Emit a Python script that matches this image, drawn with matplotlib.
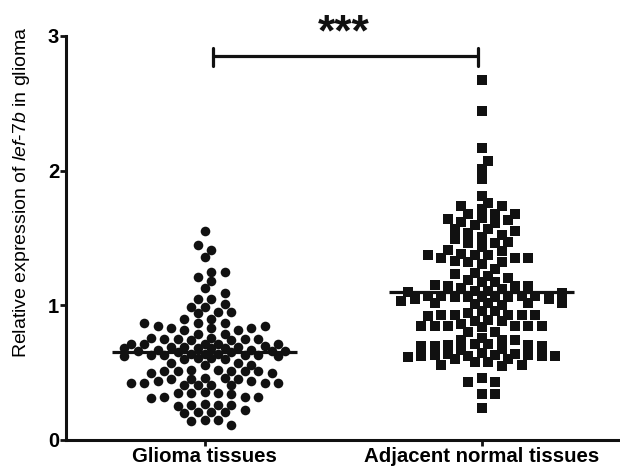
import numpy as np
import matplotlib
matplotlib.use("Agg")
import matplotlib.pyplot as plt

plt.rcParams['font.family'] = ['Liberation Sans', 'DejaVu Sans']
plt.rcParams['mathtext.fontset'] = 'custom'
plt.rcParams['mathtext.it'] = 'Liberation Sans:italic'
plt.rcParams['mathtext.rm'] = 'Liberation Sans'

categories = ["Glioma tissues", "Adjacent normal tissues"]

glioma = [1.55, 1.45, 1.41, 1.36, 1.25, 1.25, 1.21, 1.18, 1.13, 1.09, 1.05, 1.05, 1.01,
          0.99, 0.99, 0.95, 0.95, 0.94, 0.90, 0.90, 0.87, 0.87, 0.87, 0.85, 0.85,
          0.83, 0.83, 0.83, 0.82, 0.82, 0.79, 0.79,
          0.76, 0.76, 0.75, 0.75, 0.75, 0.75, 0.74, 0.74,
          0.71, 0.71, 0.71, 0.71, 0.71,
          0.70, 0.69, 0.69, 0.69, 0.68, 0.68, 0.68, 0.68,
          0.67, 0.67, 0.66, 0.66, 0.66, 0.65, 0.65,
          0.64, 0.64, 0.64, 0.63, 0.63, 0.63, 0.63,
          0.62, 0.62, 0.61, 0.61, 0.60, 0.60,
          0.57, 0.57, 0.56, 0.56,
          0.52, 0.52, 0.51, 0.51, 0.51, 0.51, 0.51, 0.50, 0.50,
          0.46, 0.46, 0.45, 0.45, 0.45, 0.44, 0.44,
          0.42, 0.42, 0.42, 0.42, 0.41, 0.41, 0.41, 0.41,
          0.36, 0.35, 0.35, 0.35, 0.34,
          0.32, 0.32, 0.32, 0.31,
          0.27, 0.26, 0.26, 0.26, 0.25,
          0.22, 0.21, 0.21, 0.21, 0.20,
          0.15, 0.15, 0.14, 0.11]

adjacent = [2.67, 2.44, 2.17, 2.07, 2.01, 1.94, 1.81,
            1.76, 1.74, 1.74, 1.715,
            1.68, 1.68, 1.68, 1.645, 1.64, 1.63, 1.62, 1.61, 1.60,
            1.565, 1.565, 1.55, 1.54, 1.52, 1.51, 1.49,
            1.47, 1.46, 1.46, 1.43, 1.41, 1.40,
            1.38, 1.37, 1.37, 1.37, 1.35, 1.35, 1.35, 1.33, 1.32, 1.32, 1.31,
            1.27, 1.24, 1.23, 1.22, 1.20, 1.19,
            1.17, 1.17, 1.15, 1.14, 1.14, 1.14, 1.13,
            1.12, 1.11, 1.11, 1.10,
            1.09, 1.07, 1.07, 1.07, 1.07, 1.06, 1.06, 1.06, 1.06, 1.06, 1.05, 1.05,
            1.03, 1.02, 1.02, 1.02, 1.02, 1.01, 1.00,
            0.955, 0.955,
            0.94, 0.93, 0.93, 0.93, 0.93, 0.93, 0.92,
            0.89, 0.885, 0.88,
            0.86, 0.85, 0.85, 0.85, 0.85, 0.85, 0.85, 0.84,
            0.805, 0.80, 0.76, 0.745, 0.743, 0.74,
            0.71, 0.71, 0.706, 0.706, 0.70, 0.70, 0.70,
            0.675, 0.67, 0.645, 0.64,
            0.635, 0.63, 0.63, 0.63, 0.625, 0.62, 0.62, 0.62, 0.615,
            0.60, 0.60, 0.58, 0.58, 0.56, 0.56, 0.55,
            0.46, 0.433, 0.433, 0.34, 0.34, 0.24]

group_means = [0.65, 1.10]
yticks = [0, 1, 2, 3]
sig_label = "***"

fig = plt.figure(figsize=(6.2, 4.72), dpi=100)
ax = fig.add_axes([0.1065, 0.0678, 0.8935, 0.856])
ax.set_xlim(-0.5, 1.5)
ax.set_ylim(0, 3)


def swarm_x(ys, center, d_px=8.9, step_px=6.7, max_k=12):
    """Column-scatter layout: place points from the middle value outward, each at
    the free lattice slot nearest the centre; if no slot is free, squeeze."""
    ys = np.asarray(ys, dtype=float)
    n = len(ys)
    pts = ax.transData.transform(np.column_stack([np.full(n, center), ys]))
    cx = pts[0, 0]
    ypx = pts[:, 1]
    med = np.median(ypx)
    order = np.argsort(np.abs(ypx - med), kind='stable')
    ks = [0]
    for k in range(1, max_k + 1):
        ks += [k, -k]
    placed_x = []
    placed_y = []
    xpx = np.zeros(n)
    for i in order:
        best_x, best_d = None, -1.0
        chosen = None
        for k in ks:
            x = cx + k * step_px
            if placed_x:
                dmin = np.min(np.hypot(np.array(placed_x) - x, np.array(placed_y) - ypx[i]))
            else:
                dmin = np.inf
            if dmin >= d_px:
                chosen = x
                break
            if dmin > best_d:
                best_d, best_x = dmin, x
        if chosen is None:
            chosen = best_x
        xpx[i] = chosen
        placed_x.append(chosen)
        placed_y.append(ypx[i])
    data = ax.transData.inverted().transform(np.column_stack([xpx, ypx]))
    return data[:, 0]


gx = swarm_x(glioma, 0)
axx = swarm_x(adjacent, 1)
ax.scatter(gx, glioma, s=48, marker='o', color='#111111', linewidths=0, zorder=3)
ax.scatter(axx, adjacent, s=44, marker='s', color='#111111', linewidths=0, zorder=3)

for i, m in enumerate(group_means):
    ax.plot([i - 0.335, i + 0.335], [m, m], color='#111111', lw=2.3, zorder=4,
            solid_capstyle='butt')

# significance bracket
ax.plot([0.032, 0.989], [2.85, 2.85], color='#111111', lw=2.3, clip_on=False,
        solid_capstyle='butt')
for xb in [0.032, 0.989]:
    ax.plot([xb, xb], [2.78, 2.91], color='#111111', lw=2.3, clip_on=False,
            solid_capstyle='round')
ax.text(0.504, 2.93, sig_label, ha='center', va='baseline', fontsize=32,
        fontweight='bold', color='#111111', clip_on=False)

for s in ['top', 'right']:
    ax.spines[s].set_visible(False)
for s in ['left', 'bottom']:
    ax.spines[s].set_linewidth(2.2)
    ax.spines[s].set_color('#111111')

ax.set_xticks([0, 1])
ax.set_xticklabels(categories, fontsize=14.7, fontweight='bold')
ax.set_yticks(yticks)
ax.set_yticklabels([str(t) for t in yticks], fontsize=14.5, fontweight='bold')
ax.tick_params(axis='both', length=4, width=2, color='#111111', pad=1)
ax.set_ylabel(r'Relative expression of $\mathit{lef}$-$\mathit{7b}$ in glioma',
              fontsize=14)
ax.yaxis.set_label_coords(-0.062, 0.614)

fig.savefig("out.png", dpi=100)
